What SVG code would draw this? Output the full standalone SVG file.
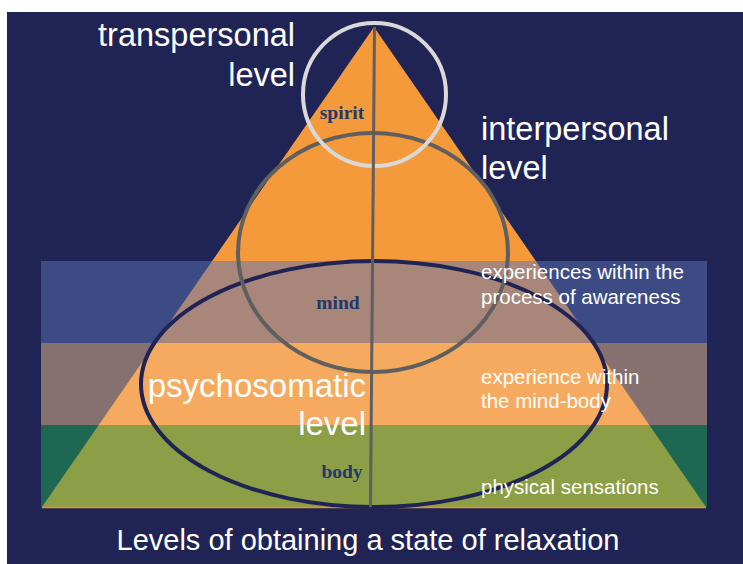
<svg xmlns="http://www.w3.org/2000/svg" width="743" height="564" viewBox="0 0 743 564">
<style>
.lbl{font-family:"Liberation Sans",Arial,sans-serif;fill:#ffffff}
.big{font-size:32.5px}
.sm{font-size:20.5px}
.ser{font-family:"Liberation Serif","Times New Roman",serif;font-weight:bold;font-size:19.5px;fill:#22386b}
</style>
<rect x="0" y="0" width="743" height="564" fill="#ffffff"/>
<rect x="7" y="12" width="736" height="552" fill="#1f2455"/>
<g id="bands">
<rect x="41" y="261" width="666" height="82" fill="#3d4b85"/>
<rect x="41" y="343" width="666" height="82" fill="#877170"/>
<rect x="41" y="425" width="666" height="82" fill="#1e6753"/>
</g>
<g id="pyramid">
<polygon points="374,27 212.15,261 535.85,261" fill="#f59a3a"/>
<polygon points="212.15,261 535.85,261 592.57,343 155.43,343" fill="#a8877a"/>
<polygon points="155.43,343 592.57,343 649.28,425 98.72,425" fill="#f5aa60"/>
<polygon points="98.72,425 649.28,425 706,507 42,507" fill="#8c9f46"/>
<line x1="42" y1="507.5" x2="706" y2="507.5" stroke="#f08a30" stroke-width="1.5"/>
</g>
<g id="connectors">
<ellipse id="body-ellipse" cx="374" cy="384" rx="233" ry="123" fill="none" stroke="#1f2455" stroke-width="4"/>
<ellipse id="mind-ellipse" cx="373" cy="252.5" rx="135" ry="119.5" fill="none" stroke="#5f5f5f" stroke-width="4"/>
<circle id="spirit-circle" cx="374.5" cy="94.5" r="71.5" fill="none" stroke="#d9d9d9" stroke-width="4"/>
<line x1="374.5" y1="27" x2="370.5" y2="507" stroke="#5f5f5f" stroke-width="3"/>
</g>
<g id="transpersonal">
<text class="lbl big" x="295" y="46" text-anchor="end">transpersonal</text>
<text class="lbl big" x="295" y="86" text-anchor="end">level</text>
</g>
<g id="interpersonal">
<text class="lbl big" x="481" y="140">interpersonal</text>
<text class="lbl big" x="481" y="179">level</text>
</g>
<g id="psychosomatic">
<text class="lbl" style="font-size:33px" x="366" y="397" text-anchor="end">psychosomatic</text>
<text class="lbl" style="font-size:33px" x="366" y="435" text-anchor="end">level</text>
</g>
<g id="spirit"><text class="ser" x="342" y="119" text-anchor="middle">spirit</text></g>
<g id="mind"><text class="ser" x="338" y="309" text-anchor="middle">mind</text></g>
<g id="body"><text class="ser" x="342" y="478" text-anchor="middle">body</text></g>
<g id="awareness">
<text class="lbl sm" x="481" y="279">experiences within the</text>
<text class="lbl sm" x="481" y="304">process of awareness</text>
</g>
<g id="mindbody">
<text class="lbl sm" x="481" y="384">experience within</text>
<text class="lbl sm" x="481" y="408">the mind-body</text>
</g>
<g id="sensations">
<text class="lbl sm" x="481" y="494">physical sensations</text>
</g>
<g id="title">
<text class="lbl" style="font-size:29px" x="368" y="550" text-anchor="middle">Levels of obtaining a state of relaxation</text>
</g>
</svg>
